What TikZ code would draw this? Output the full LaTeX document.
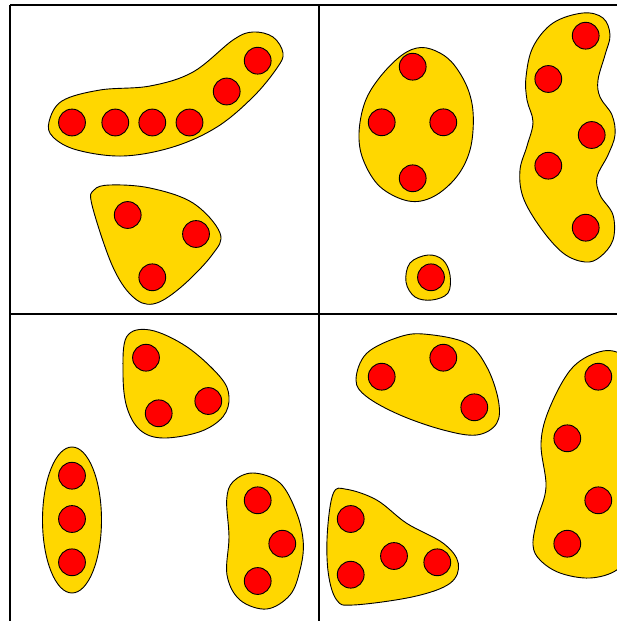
\documentclass[tikz,border=0pt]{standalone}
\begin{document}
\begin{tikzpicture}[x=1pt,y=-1pt,
  blob/.style={draw=black,line width=0.9pt,fill=gold},
  dot/.style={circle,draw=black,line width=0.9pt,fill=red,minimum size=26.8pt,inner sep=0pt},
  framel/.style={draw=black,line width=2pt},
  sm/.style={smooth cycle,tension=0.6}]
\definecolor{gold}{RGB}{255,215,0}
\useasboundingbox (0,0) rectangle (617,621);
\clip (0,0) rectangle (617,621);
\fill[white] (0,0) rectangle (617,621);
% frame
\draw[framel] (10,5) -- (640,5);
\draw[framel] (10,314) -- (640,314);
\draw[framel] (10,5) -- (10,640);
\draw[framel] (319,5) -- (319,640);
% ---- top left
\draw[blob] plot[sm] coordinates {(49,122) (62,101) (100,90) (150,86) (193,72) (233,40) (253,32) (273,37) (283,53) (277,68) (253,97) (217,127) (173,147) (123,156) (77,150) (53,137)};
\draw[blob] plot[sm] coordinates {(94,190) (110,185) (150,188) (193,203) (220,233) (212,255) (180,288) (153,304) (132,296) (112,265) (92,205)};
\node[dot] (a1) at (72,122.5) {};
\node[dot] (a2) at (115.3,122.5) {};
\node[dot] (a3) at (152.3,122.5) {};
\node[dot] (a4) at (189.5,122.5) {};
\node[dot] (a5) at (226.7,91.5) {};
\node[dot] (a6) at (257.7,60.7) {};
\node[dot] (b1) at (127.7,215) {};
\node[dot] (b2) at (196,234) {};
\node[dot] (b3) at (152.3,277.3) {};
% ---- top right
\draw[blob] plot[sm] coordinates {(421,47.5) (402,55) (380,77) (365,102) (359,133.3) (363.3,160) (380,186.7) (408.3,201) (433.3,196.7) (456.7,176.7) (470,150) (473.3,116.7) (468.3,90) (455,66) (440,53)};
\draw[blob] plot[sm] coordinates {(428,255) (443,260) (450,275) (448,293) (432,300) (415,297) (406,282) (410,263)};
\draw[blob] plot[sm] coordinates {(583,13) (603,18) (610,35) (605,55) (598,80) (600,97) (612,115) (615,135) (608,155) (597,177) (600,195) (613,215) (613,240) (600,257) (585,262) (563,253) (540,227) (523,197) (520,170) (527,146) (533,122) (527,100) (526,77) (533,47) (553,23)};
\node[dot] (c1) at (412.7,66.7) {};
\node[dot] (c2) at (381.7,122.3) {};
\node[dot] (c3) at (443.3,122.3) {};
\node[dot] (c4) at (412.7,178.3) {};
\node[dot] (d1) at (431,277.3) {};
\node[dot] (e1) at (585.7,35.7) {};
\node[dot] (e2) at (548.3,79) {};
\node[dot] (e3) at (591.7,135) {};
\node[dot] (e4) at (548.3,165.7) {};
\node[dot] (e5) at (585.7,227.7) {};
% ---- bottom left
\draw[blob] plot[sm] coordinates {(126.7,336.7) (150,330) (186.7,346.7) (220,376.7) (229,396.7) (223,416.7) (200,431.7) (163,438) (140,430) (126.7,406.7) (123,373)};
\draw[blob] (72,520) ellipse [x radius=29.5, y radius=73];
\draw[blob] plot[sm] coordinates {(253,473) (280,483) (296.7,513) (303.3,543) (300,570) (290,595) (266.7,609) (240,600) (227,575) (229,537) (226.7,500) (233,481.7)};
\node[dot] (f1) at (146,357.7) {};
\node[dot] (f2) at (158.7,413.3) {};
\node[dot] (f3) at (208.3,401) {};
\node[dot] (g1) at (72,475.7) {};
\node[dot] (g2) at (72,519) {};
\node[dot] (g3) at (72,562.3) {};
\node[dot] (h1) at (257.7,500.3) {};
\node[dot] (h2) at (282.3,543.7) {};
\node[dot] (h3) at (257.7,581) {};
% ---- bottom right
\draw[blob] plot[sm] coordinates {(356,380) (366.7,353.3) (400,336.7) (426.7,334.3) (466.7,343.3) (486.7,366.7) (498.3,400) (496.7,423.3) (476.7,435) (443.3,430) (400,415) (366.7,396.7)};
\draw[blob] plot[sm] coordinates {(333.3,493.3) (346.7,489.3) (376.7,500) (406.7,523.3) (443.3,543.3) (458.3,563.3) (450,583.3) (413.3,596.7) (353.3,605) (336.7,600) (328.3,573.3) (327.3,533.3)};
\draw[blob] plot[sm] coordinates {(603,351) (625,357) (635,380) (635,440) (632,510) (630,550) (616.7,570) (590,578) (560,573) (540,560) (533,545) (537,520) (546,487) (541,443) (550,407) (573,367)};
\node[dot] (i1) at (381.7,376.7) {};
\node[dot] (i2) at (443.3,357.7) {};
\node[dot] (i3) at (474.3,407.3) {};
\node[dot] (j1) at (350.7,519) {};
\node[dot] (j2) at (350.7,574.7) {};
\node[dot] (j3) at (394,556) {};
\node[dot] (j4) at (437.3,562.3) {};
\node[dot] (k1) at (598.3,376.7) {};
\node[dot] (k2) at (567.3,438.3) {};
\node[dot] (k3) at (598.3,500.3) {};
\node[dot] (k4) at (567.3,543.7) {};
\end{tikzpicture}
\end{document}
